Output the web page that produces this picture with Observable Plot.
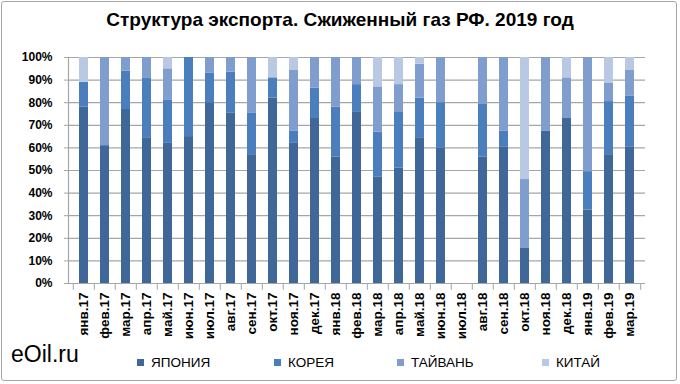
<!DOCTYPE html>
<html>
<head>
<meta charset="utf-8">
<script src="https://cdn.jsdelivr.net/npm/d3@7"></script>
<script src="https://cdn.jsdelivr.net/npm/@observablehq/plot@0.6"></script>
<style>
  html, body { margin: 0; padding: 0; background: #fff; }
  #wrap { position: relative; width: 680px; height: 384px; overflow: hidden; font-family: "Liberation Sans", Arial, sans-serif; }
  #border { position: absolute; left: 1px; top: 1px; width: 674px; height: 378px; border: 1.5px solid #a6a6a6; border-radius: 3px; }
  #title { position: absolute; left: 0; width: 680px; top: 9px; text-align: center; font-family: "Liberation Sans Narrow", "Liberation Sans", sans-serif; font-weight: bold; font-size: 19px; color: #000; }
  #chart { position: absolute; left: 0; top: 0; }
  #brand { position: absolute; left: 11px; top: 341px; font-size: 23px; color: #000; }
  .leg { position: absolute; top: 355px; font-family: "Liberation Sans Narrow", "Liberation Sans", sans-serif; font-size: 13.5px; color: #000; display: flex; align-items: center; }
  .leg span.sw { display: inline-block; width: 7px; height: 7px; margin-right: 7px; }
</style>
</head>
<body>
<div id="wrap">
  <div id="chart"></div>
  <div id="title">Структура экспорта. Сжиженный газ РФ. 2019 год</div>
  <div id="brand">eOil.ru</div>
  <div id="legend"></div>
  <div id="border"></div>
</div>
<script>
const months = ["янв.17","фев.17","мар.17","апр.17","май.17","июн.17","июл.17","авг.17","сен.17","окт.17","ноя.17","дек.17",
  "янв.18","фев.18","мар.18","апр.18","май.18","июн.18","июл.18","авг.18","сен.18","окт.18","ноя.18","дек.18",
  "янв.19","фев.19","мар.19"];
const countries = ["ЯПОНИЯ","КОРЕЯ","ТАЙВАНЬ","КИТАЙ"];
const colors = ["#3f6899","#4a7ebc","#7f9ecd","#b9c9e4"];
const japan  = [78,61,77,64.5,62,65,80,75.5,57,82,62,73,56,76,47,51,64.5,60,0,56,60.5,15.5,67.5,73,32.5,57,60.5];
const korea  = [11,0,17,26.5,19,35,13,18,18.5,9,5.5,13.5,22,12,20,25,17.5,20,0,23.5,7,0,0,0,17,23.5,22.5];
const taiwan = [0,39,6,9,14,0,7,6.5,24.5,0,27,13.5,22,12,20,12,15,20,0,20.5,32.5,30.5,32.5,18,50.5,8,11.5];
const china  = [11,0,0,0,5,0,0,0,0,9,5.5,0,0,0,13,12,3,0,0,0,0,54,0,9,0,11.5,5.5];
const yTicks = [0,10,20,30,40,50,60,70,80,90,100];

const seriesValues = [japan, korea, taiwan, china];
const data = months.flatMap((m, i) => countries.map((c, k) => ({month: m, country: c, value: seriesValues[k][i]})));

const chart = Plot.plot({
  width: 680,
  height: 345,
  marginTop: 57,
  marginBottom: 62,
  marginLeft: 68,
  marginRight: 35,
  style: {fontFamily: "'Liberation Sans', Arial, sans-serif", background: "transparent"},
  x: {domain: months, paddingInner: 0.58, paddingOuter: 0.29, label: null},
  y: {domain: [0, 100], label: null},
  color: {domain: countries, range: colors},
  marks: [
    Plot.gridY(yTicks, {stroke: "#a6a6a6", strokeOpacity: 1, strokeWidth: 1.2}),
    Plot.frame({anchor: "left", stroke: "#a6a6a6", strokeWidth: 1.2}),
    Plot.ruleX(months, {x: d => d, dx: -10.7, y1: 0, y2: -3, stroke: "#a6a6a6", clip: false}),
    Plot.ruleX(months.slice(-1), {x: d => d, dx: 10.7, y1: 0, y2: -3, stroke: "#a6a6a6", clip: false}),
    Plot.barY(data, {x: "month", y: "value", fill: "country", order: countries}),
    Plot.axisY(yTicks, {tickFormat: d => d + "%", tickSize: 4, stroke: "#a6a6a6", tickPadding: 12, fontWeight: "bold", fontSize: 12, fill: "#000", label: null}),
    Plot.axisX({tickSize: 0, tickPadding: 9, tickRotate: -90, fontWeight: "bold", fontSize: 13.5, fill: "#000", label: null})
  ]
});
document.getElementById("chart").appendChild(chart);

const legendPos = [137, 274, 397, 542];
const leg = document.getElementById("legend");
countries.forEach((c, i) => {
  const d = document.createElement("div");
  d.className = "leg";
  d.style.left = legendPos[i] + "px";
  d.innerHTML = `<span class="sw" style="background:${colors[i]}"></span>${c}`;
  leg.appendChild(d);
});
</script>
</body>
</html>
